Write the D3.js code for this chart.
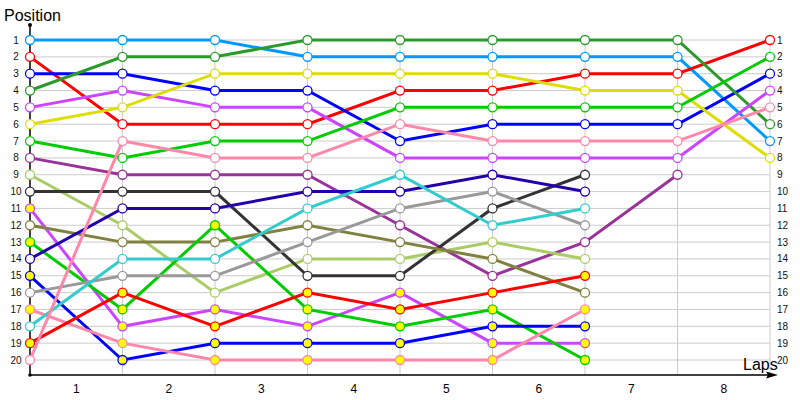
<!DOCTYPE html>
<html>
<head>
<meta charset="UTF-8">
<script src="https://d3js.org/d3.v7.min.js"></script>
<style>
    body { margin: 0; background: #fff; }
    text { font-family: "Liberation Sans", Arial, sans-serif; }
    .grid line { stroke: #cccccc; stroke-width: 1px; }
    .tick-label { font-size: 10px; fill: #111; }
</style>
</head>
<body>
<svg width="800" height="400"></svg>
<script>
    // positions per driver, one value per lap mark (0 = start)
    let positions = [
        [1, 1, 1, 2, 2, 2, 2, 2, 7],
        [2, 6, 6, 6, 4, 4, 3, 3, 1],
        [3, 3, 4, 4, 7, 6, 6, 6, 3],
        [4, 2, 2, 1, 1, 1, 1, 1, 6],
        [5, 4, 5, 5, 8, 8, 8, 8, 4],
        [6, 5, 3, 3, 3, 3, 4, 4, 8],
        [7, 8, 7, 7, 5, 5, 5, 5, 2],
        [8, 9, 9, 9, 12, 15, 13, 9],
        [9, 12, 16, 14, 14, 13, 14],
        [10, 10, 10, 15, 15, 11, 9],
        [11, 18, 17, 18, 16, 19, 19],
        [12, 13, 13, 12, 13, 14, 16],
        [13, 17, 12, 17, 18, 17, 20],
        [14, 11, 11, 10, 10, 9, 10],
        [15, 20, 19, 19, 19, 18, 18],
        [16, 15, 15, 13, 11, 10, 12],
        [17, 19, 20, 20, 20, 20, 17],
        [18, 14, 14, 11, 9, 12, 11],
        [19, 16, 18, 16, 17, 16, 15],
        [20, 7, 8, 8, 6, 7, 7, 7, 5]
    ];
    let colors = ["#0099ff", "#ff0000", "#0000ff", "#2b9a2b", "#cc44ff", "#dddd00", "#00cc00",
        "#993399", "#aacc66", "#333333", "#cc44ff", "#808040", "#00cc00", "#2200aa",
        "#0000ff", "#999999", "#ff88aa", "#33cccc", "#ff0000", "#ff88aa"];
    let markerFill = ["#fff", "#fff", "#fff", "#fff", "#fff", "#fff", "#fff", "#fff", "#fff", "#fff",
        "#ffff00", "#fff", "#ffff00", "#fff", "#ffff00", "#fff", "#ffff00", "#fff", "#ffff00", "#fff"];
    let lapLabels = ["1", "2", "3", "4", "5", "6", "7", "8"];
    let posLabels = d3.range(1, 21);

    let svg = d3.select("svg");

    let x = d3.scaleLinear().domain([0, 8]).range([30, 770]);
    let y = d3.scaleLinear().domain([1, 20]).range([40, 360]);

    // grid
    let grid = svg.append("g").attr("class", "grid");
    grid.selectAll(".h").data(posLabels).enter().append("line")
        .attr("x1", x(0)).attr("x2", x(8))
        .attr("y1", d => y(d)).attr("y2", d => y(d));
    grid.selectAll(".v").data(d3.range(1, 9)).enter().append("line")
        .attr("x1", d => x(d)).attr("x2", d => x(d))
        .attr("y1", 35).attr("y2", 375);

    // axes
    svg.append("line").attr("x1", 30).attr("x2", 30).attr("y1", 25).attr("y2", 375)
        .attr("stroke", "#000").attr("stroke-width", 1.5);
    svg.append("line").attr("x1", 30).attr("x2", 772).attr("y1", 375).attr("y2", 375)
        .attr("stroke", "#000").attr("stroke-width", 1.5);
    svg.append("circle").attr("cx", 30).attr("cy", 25).attr("r", 2).attr("fill", "#000");
    svg.append("circle").attr("cx", 30).attr("cy", 375).attr("r", 1.8).attr("fill", "#000");
    svg.append("path").attr("d", "M778,375 L766,371.5 L768,375 L766,378.5 Z").attr("fill", "#000");

    // left and right position labels
    svg.selectAll(".lpos").data(posLabels).enter().append("text")
        .attr("class", "tick-label")
        .attr("x", 16).attr("y", d => y(d) + 3.5)
        .attr("text-anchor", "middle")
        .text(d => d);
    svg.selectAll(".rpos").data(posLabels).enter().append("text")
        .attr("class", "tick-label")
        .attr("x", 777).attr("y", d => y(d) + 3.5)
        .text(d => d);

    // lap labels
    svg.selectAll(".lap").data(lapLabels).enter().append("text")
        .attr("x", (d, i) => x(i + 0.5)).attr("y", 393)
        .attr("text-anchor", "middle")
        .attr("font-size", "12px")
        .text(d => d);

    svg.append("text").attr("x", 4).attr("y", 21).attr("font-size", "16px").text("Position");
    svg.append("text").attr("x", 743).attr("y", 370).attr("font-size", "16px").text("Laps");

    let line = d3.line().x((d, i) => x(i)).y(d => y(d));

    positions.forEach((p, k) => {
        let g = svg.append("g");
        g.append("path")
            .attr("d", line(p))
            .attr("fill", "none")
            .attr("stroke", colors[k])
            .attr("stroke-width", 3);
        g.selectAll("circle").data(p).enter().append("circle")
            .attr("cx", (d, i) => x(i))
            .attr("cy", d => y(d))
            .attr("r", 4.5)
            .attr("fill", markerFill[k])
            .attr("stroke", colors[k])
            .attr("stroke-width", 1.3);
    });
</script>
</body>
</html>
